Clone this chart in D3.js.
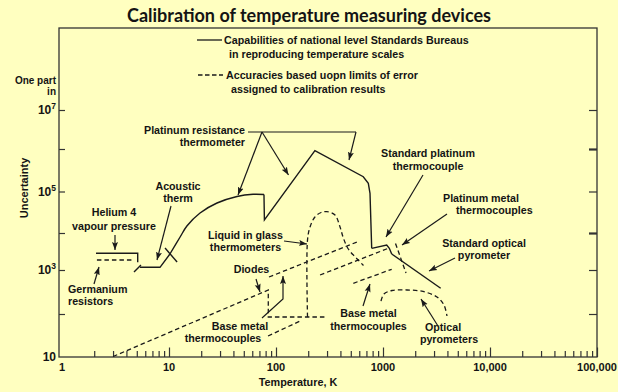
<!DOCTYPE html>
<html><head><meta charset="utf-8">
<script src="https://cdn.jsdelivr.net/npm/d3@7"></script>
<style>
html,body{margin:0;padding:0;background:#FFFFC0;}
svg{display:block;}
text{font-family:"Liberation Sans",Arial,sans-serif;font-weight:bold;fill:#141414;}
text.title{font-family:Lato,"Liberation Sans",sans-serif;}
</style></head><body>
<svg id="chart" width="618" height="392"></svg>
<script>
// ---------- data ----------
const xMajorTicks = [1, 10, 100, 1000, 10000, 100000];
const xTickLabels = ["1", "10", "100", "1000", "10,000", "100,000"];
const xMinorMultipliers = [2, 3, 4, 5, 6, 7, 8, 9];
const yTickValues = [100, 1e3, 1e4, 1e5, 1e6, 1e7];
const yLabelValues = [10, 1e3, 1e5, 1e7];
const yLabelExponents = ["", "3", "5", "7"];

// solid: capabilities of national standards bureaus  [T (K), one part in]
const helium4 = [[2.08, 2830], [5.10, 2830], [5.10, 1615]];
const heliumBreak = [[4.71, 901], [5.47, 1365]];
const acousticTherm = [[5.36, 1183], [8.24, 1183], [10.2, 2706]];
const acousticBreak = [[9.18, 3933], [11.9, 1645]];
const platinumLow = [[10.2, 2706], [12.7, 7800], [14.7, 14750], [19.5, 30340], [28.1, 52800], [43.2, 75900], [61.0, 85700], [77.2, 84700]];
const platinumHigh = [[77.2, 84700], [77.9, 20570], [231, 912000], [654, 222900], [729, 155900], [756, 90500], [784, 3857]];
const stdPtThermocouple = [[784, 3857], [1083, 4740], [1146, 3857], [1206, 2706]];
const stdOpticalPyrometer = [[1206, 2706], [3459, 384]];

// dashed: accuracies based upon limits of error
const germanium = [[2.12, 1862], [4.61, 1862]];
const diodes = [[3.0, 10], [84.7, 351], [84.7, 85], [287, 85]];
const liquidInGlass = [[197, 85], [197, 6470], [208, 13950], [231, 24300], [264, 31200], [300, 32600], [356, 27150], [396, 14190], [426, 7330], [474, 3695], [568, 2046], [657, 1324]];
const baseMetalLow = [[84.2, 30.4], [168, 68.4]];
const baseMetalHigh = [[86, 693], [571, 5710]];
const baseMetalMid = [[258, 770], [1121, 3860]];
const baseMetalRight = [[528, 499], [1206, 1045]];
const platinumMetalTC = [[1309, 5200], [1641, 855]];
const opticalPyrometers = [[958, 197], [1021, 285], [1213, 342], [1676, 351], [2366, 325], [3196, 243], [3716, 160], [3963, 89.7]];

// ---------- layout ----------
const svg = d3.select("#chart");
const frame = {left: 59, top: 28, right: 597, bottom: 357};
const x = d3.scaleLog().domain([1, 1e5]).range([62, 597]);
const y = d3.scaleLog().domain([10, 100, 1e3, 1e4, 1e5, 1e6, 1e7, 1e9])
  .range([356.5, 314, 270, 233, 191.5, 149, 110, 28]);
const ink = "#1a1a1a";
const fs = "10.7px";

const defs = svg.append("defs");
defs.append("marker").attr("id", "ah").attr("markerUnits", "userSpaceOnUse")
  .attr("markerWidth", 9).attr("markerHeight", 7).attr("refX", 8).attr("refY", 3.5)
  .attr("orient", "auto")
  .append("path").attr("d", "M0,0.5 L8,3.5 L0,6.5 L1.5,3.5 Z").attr("fill", ink);

// multi-line text helper: one <text> per label, one <tspan> per line
function multiText(lines, tx, ty, anchor, lh, size, dxs) {
  const t = svg.append("text").attr("text-anchor", anchor).style("font-size", size);
  lines.forEach((s, i) => t.append("tspan")
    .attr("x", tx + (dxs ? dxs[i] : 0)).attr("y", ty + i * lh).text(s));
  return t;
}

// title
svg.append("text").attr("class", "title").attr("x", 309).attr("y", 22).attr("text-anchor", "middle")
  .style("font-size", "18px").text("Calibration of temperature measuring devices");

// frame
svg.append("rect").attr("x", frame.left).attr("y", frame.top)
  .attr("width", frame.right - frame.left).attr("height", frame.bottom - frame.top)
  .attr("fill", "none").attr("stroke", "#333").attr("stroke-width", 1.3);

// axes ticks
const minor = [];
xMajorTicks.slice(0, -1).forEach(d => xMinorMultipliers.forEach(m => minor.push(d * m)));
function styleAxis(g) { g.select(".domain").remove(); g.selectAll("line").attr("stroke", "#333").attr("stroke-width", 1.2); }
svg.append("g").attr("transform", `translate(0,${frame.bottom})`)
  .call(d3.axisBottom(x).tickValues(minor).tickSize(-6).tickFormat("")).call(styleAxis);
svg.append("g").attr("transform", `translate(0,${frame.bottom})`)
  .call(d3.axisBottom(x).tickValues(xMajorTicks.slice(1)).tickSize(-9.5).tickFormat("")).call(styleAxis);
svg.append("g").attr("transform", `translate(${frame.left},0)`)
  .call(d3.axisLeft(y).tickValues(yTickValues).tickSize(-6).tickFormat("")).call(styleAxis);
const rightAx = svg.append("g").attr("transform", `translate(${frame.right},0)`)
  .call(d3.axisRight(y).tickValues(yTickValues).tickSize(-8).tickFormat("")).call(styleAxis);
rightAx.selectAll(".tick line").attr("stroke-width", d => (d === 1e6 || d === 1e4) ? 2.2 : 1.2);

// x labels
svg.append("g").selectAll("text").data(xMajorTicks).join("text")
  .attr("x", d => x(d)).attr("y", 371).attr("text-anchor", "middle")
  .style("font-size", "11px").text((d, i) => xTickLabels[i]);
svg.append("text").attr("x", 298).attr("y", 386).attr("text-anchor", "middle")
  .style("font-size", "10.8px").text("Temperature, K");

// y labels
const yl = svg.append("g").selectAll("text").data(yLabelValues).join("text")
  .attr("x", 56).attr("y", d => y(d) + 4).attr("text-anchor", "end").style("font-size", "12px");
yl.append("tspan").text("10");
yl.append("tspan").attr("dy", -5).style("font-size", "8.5px").text((d, i) => yLabelExponents[i]);
svg.append("text").attr("transform", "translate(28,188) rotate(-90)").attr("text-anchor", "middle")
  .style("font-size", "11px").text("Uncertainty");
multiText(["One part", "in"], 56, 84, "end", 11.3, "10px");

// legend
svg.append("line").attr("x1", 197).attr("x2", 222).attr("y1", 40).attr("y2", 40).attr("stroke", ink).attr("stroke-width", 1.3);
svg.append("line").attr("x1", 198).attr("x2", 223).attr("y1", 75).attr("y2", 75).attr("stroke", ink).attr("stroke-width", 1.3).attr("stroke-dasharray", "4.5,2.5");
multiText(["Capabilities of national level Standards Bureaus", "in reproducing temperature scales"], 224, 44, "start", 14, fs, [0, 5]);
multiText(["Accuracies based uopn limits of error", "assigned to calibration results"], 226, 79, "start", 14, fs, [0, 5]);

// series
const line = d3.line().x(d => x(d[0])).y(d => y(d[1]));
const smooth = d3.line().x(d => x(d[0])).y(d => y(d[1])).curve(d3.curveCatmullRom.alpha(0.5));
const solid = [[helium4, line], [heliumBreak, line], [acousticTherm, line], [acousticBreak, line],
  [platinumLow, smooth], [platinumHigh, line], [stdPtThermocouple, line], [stdOpticalPyrometer, line]];
const dashed = [[germanium, line], [diodes, line], [liquidInGlass, smooth], [baseMetalLow, line],
  [baseMetalHigh, line], [baseMetalMid, line], [baseMetalRight, line], [platinumMetalTC, line], [opticalPyrometers, smooth]];
const gs = svg.append("g").attr("fill", "none").attr("stroke", ink).attr("stroke-width", 1.4);
solid.forEach(([d, gen]) => gs.append("path").attr("d", gen(d)));
const gd = svg.append("g").attr("fill", "none").attr("stroke", ink).attr("stroke-width", 1.3).attr("stroke-dasharray", "4.5,3");
dashed.forEach(([d, gen]) => gd.append("path").attr("d", gen(d)));

// annotations (layout in px)
const labels = [
  {lines: ["Platinum resistance", "thermometer"], x: 245, y: 134, a: "end", lh: 12.2},
  {lines: ["Acoustic", "therm"], x: 178, y: 190, a: "middle", lh: 12.2},
  {lines: ["Helium 4", "vapour pressure"], x: 114, y: 216, a: "middle", lh: 14},
  {lines: ["Germanium", "resistors"], x: 68, y: 293, a: "start", lh: 12.2},
  {lines: ["Diodes"], x: 251.5, y: 273, a: "middle", lh: 12.2},
  {lines: ["Liquid in glass", "thermometers"], x: 245.5, y: 239, a: "middle", lh: 12.2},
  {lines: ["Base metal", "thermocouples"], x: 240, y: 330, a: "middle", lh: 12.2, dx: [0, -17]},
  {lines: ["Base metal", "thermocouples"], x: 368.5, y: 317, a: "middle", lh: 12.5},
  {lines: ["Optical", "pyrometers"], x: 443, y: 331, a: "middle", lh: 12.2, dx: [0, 6]},
  {lines: ["Standard platinum", "thermocouple"], x: 428, y: 157, a: "middle", lh: 13},
  {lines: ["Platinum metal", "thermocouples"], x: 443, y: 202, a: "start", lh: 12.2, dx: [0, 13]},
  {lines: ["Standard optical", "pyrometer"], x: 484, y: 247, a: "middle", lh: 12.2}
];
labels.forEach(L => multiText(L.lines, L.x, L.y, L.a, L.lh, fs, L.dx));

const arrows = [
  [[262, 132], [238, 195]], [[262, 132], [288.5, 175]], [[356, 132], [349, 160]],
  [[171, 206], [157, 260]], [[115, 235], [115, 250]], [[94, 284], [99, 267]],
  [[256, 279], [260, 292]], [[284, 241], [307, 244]], [[262, 318], [283, 299], [283, 276]],
  [[363, 306], [370, 284]], [[438, 326], [421, 299]], [[423, 175], [386, 237]],
  [[447, 214], [402, 245]], [[455, 258], [429, 271]]
];
const ga = svg.append("g").attr("fill", "none").attr("stroke", ink).attr("stroke-width", 1.2);
ga.append("line").attr("x1", 248).attr("x2", 356).attr("y1", 132).attr("y2", 132);
arrows.forEach(p => ga.append("path").attr("d", d3.line()(p)).attr("marker-end", "url(#ah)"));
</script>
</body></html>
